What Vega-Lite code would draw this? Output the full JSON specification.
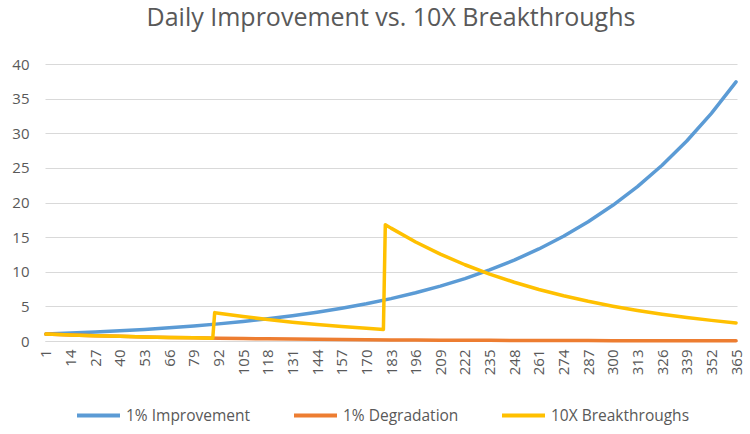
{
  "$schema": "https://vega.github.io/schema/vega-lite/v6.json",
  "autosize": "none",
  "width": 692,
  "height": 277,
  "padding": {"left": 45, "top": 64, "right": 13, "bottom": 93},
  "background": "white",
  "title": {"text": "Daily Improvement vs. 10X Breakthroughs", "font": "Open Sans", "fontSize": 25, "fontWeight": "normal", "color": "#595959", "anchor": "middle", "offset": 26},
  "config": {"view": {"stroke": null}, "font": "Open Sans"},
  "data": {"values": [
    {"day": 1, "series": "1% Improvement", "value": 1.0},
    {"day": 14, "series": "1% Improvement", "value": 1.138},
    {"day": 27, "series": "1% Improvement", "value": 1.295},
    {"day": 40, "series": "1% Improvement", "value": 1.474},
    {"day": 53, "series": "1% Improvement", "value": 1.678},
    {"day": 66, "series": "1% Improvement", "value": 1.909},
    {"day": 79, "series": "1% Improvement", "value": 2.173},
    {"day": 92, "series": "1% Improvement", "value": 2.473},
    {"day": 105, "series": "1% Improvement", "value": 2.815},
    {"day": 118, "series": "1% Improvement", "value": 3.203},
    {"day": 131, "series": "1% Improvement", "value": 3.646},
    {"day": 144, "series": "1% Improvement", "value": 4.149},
    {"day": 157, "series": "1% Improvement", "value": 4.722},
    {"day": 170, "series": "1% Improvement", "value": 5.374},
    {"day": 183, "series": "1% Improvement", "value": 6.117},
    {"day": 196, "series": "1% Improvement", "value": 6.961},
    {"day": 209, "series": "1% Improvement", "value": 7.922},
    {"day": 222, "series": "1% Improvement", "value": 9.016},
    {"day": 235, "series": "1% Improvement", "value": 10.262},
    {"day": 248, "series": "1% Improvement", "value": 11.678},
    {"day": 261, "series": "1% Improvement", "value": 13.29},
    {"day": 274, "series": "1% Improvement", "value": 15.126},
    {"day": 287, "series": "1% Improvement", "value": 17.215},
    {"day": 300, "series": "1% Improvement", "value": 19.593},
    {"day": 313, "series": "1% Improvement", "value": 22.297},
    {"day": 326, "series": "1% Improvement", "value": 25.376},
    {"day": 339, "series": "1% Improvement", "value": 28.88},
    {"day": 352, "series": "1% Improvement", "value": 32.87},
    {"day": 365, "series": "1% Improvement", "value": 37.41},
    {"day": 1, "series": "1% Degradation", "value": 1.0},
    {"day": 14, "series": "1% Degradation", "value": 0.877},
    {"day": 27, "series": "1% Degradation", "value": 0.77},
    {"day": 40, "series": "1% Degradation", "value": 0.676},
    {"day": 53, "series": "1% Degradation", "value": 0.593},
    {"day": 66, "series": "1% Degradation", "value": 0.52},
    {"day": 79, "series": "1% Degradation", "value": 0.457},
    {"day": 92, "series": "1% Degradation", "value": 0.401},
    {"day": 105, "series": "1% Degradation", "value": 0.352},
    {"day": 118, "series": "1% Degradation", "value": 0.309},
    {"day": 131, "series": "1% Degradation", "value": 0.271},
    {"day": 144, "series": "1% Degradation", "value": 0.238},
    {"day": 157, "series": "1% Degradation", "value": 0.209},
    {"day": 170, "series": "1% Degradation", "value": 0.183},
    {"day": 183, "series": "1% Degradation", "value": 0.161},
    {"day": 196, "series": "1% Degradation", "value": 0.141},
    {"day": 209, "series": "1% Degradation", "value": 0.124},
    {"day": 222, "series": "1% Degradation", "value": 0.108},
    {"day": 235, "series": "1% Degradation", "value": 0.095},
    {"day": 248, "series": "1% Degradation", "value": 0.084},
    {"day": 261, "series": "1% Degradation", "value": 0.073},
    {"day": 274, "series": "1% Degradation", "value": 0.064},
    {"day": 287, "series": "1% Degradation", "value": 0.056},
    {"day": 300, "series": "1% Degradation", "value": 0.05},
    {"day": 313, "series": "1% Degradation", "value": 0.043},
    {"day": 326, "series": "1% Degradation", "value": 0.038},
    {"day": 339, "series": "1% Degradation", "value": 0.033},
    {"day": 352, "series": "1% Degradation", "value": 0.029},
    {"day": 365, "series": "1% Degradation", "value": 0.026},
    {"day": 1, "series": "10X Breakthroughs", "value": 1.0},
    {"day": 14, "series": "10X Breakthroughs", "value": 0.877},
    {"day": 27, "series": "10X Breakthroughs", "value": 0.77},
    {"day": 40, "series": "10X Breakthroughs", "value": 0.676},
    {"day": 53, "series": "10X Breakthroughs", "value": 0.593},
    {"day": 66, "series": "10X Breakthroughs", "value": 0.52},
    {"day": 79, "series": "10X Breakthroughs", "value": 0.457},
    {"day": 89, "series": "10X Breakthroughs", "value": 0.413},
    {"day": 90, "series": "10X Breakthroughs", "value": 4.1},
    {"day": 92, "series": "10X Breakthroughs", "value": 4.02},
    {"day": 105, "series": "10X Breakthroughs", "value": 3.53},
    {"day": 118, "series": "10X Breakthroughs", "value": 3.1},
    {"day": 131, "series": "10X Breakthroughs", "value": 2.72},
    {"day": 144, "series": "10X Breakthroughs", "value": 2.39},
    {"day": 157, "series": "10X Breakthroughs", "value": 2.09},
    {"day": 170, "series": "10X Breakthroughs", "value": 1.83},
    {"day": 179, "series": "10X Breakthroughs", "value": 1.67},
    {"day": 180, "series": "10X Breakthroughs", "value": 16.8},
    {"day": 183, "series": "10X Breakthroughs", "value": 16.3},
    {"day": 196, "series": "10X Breakthroughs", "value": 14.3},
    {"day": 209, "series": "10X Breakthroughs", "value": 12.55},
    {"day": 222, "series": "10X Breakthroughs", "value": 11.01},
    {"day": 235, "series": "10X Breakthroughs", "value": 9.66},
    {"day": 248, "series": "10X Breakthroughs", "value": 8.48},
    {"day": 261, "series": "10X Breakthroughs", "value": 7.44},
    {"day": 274, "series": "10X Breakthroughs", "value": 6.53},
    {"day": 287, "series": "10X Breakthroughs", "value": 5.73},
    {"day": 300, "series": "10X Breakthroughs", "value": 5.03},
    {"day": 313, "series": "10X Breakthroughs", "value": 4.41},
    {"day": 326, "series": "10X Breakthroughs", "value": 3.87},
    {"day": 339, "series": "10X Breakthroughs", "value": 3.4},
    {"day": 352, "series": "10X Breakthroughs", "value": 2.98},
    {"day": 365, "series": "10X Breakthroughs", "value": 2.61}
  ]},
  "mark": {"type": "line", "strokeWidth": 3.5, "strokeCap": "round", "strokeJoin": "round"},
  "encoding": {
    "x": {
      "field": "day", "type": "quantitative",
      "scale": {"domain": [0.5, 365.5], "nice": false, "zero": false},
      "axis": {
        "title": null,
        "values": [1,14,27,40,53,66,79,92,105,118,131,144,157,170,183,196,209,222,235,248,261,274,287,300,313,326,339,352,365],
        "labelAngle": 270, "labelFontSize": 15, "labelColor": "#595959", "labelPadding": 8,
        "labelOverlap": false, "labelFlush": false, "labelBound": false,
        "ticks": false, "grid": false, "domain": true, "domainColor": "#d9d9d9", "domainWidth": 1
      }
    },
    "y": {
      "field": "value", "type": "quantitative",
      "scale": {"domain": [0, 40], "nice": false},
      "axis": {
        "title": null, "values": [0,5,10,15,20,25,30,35,40],
        "labelFontSize": 15, "labelColor": "#595959", "labelPadding": 16,
        "ticks": false, "domain": false, "grid": true, "gridColor": "#d9d9d9", "gridWidth": 1
      }
    },
    "color": {
      "field": "series", "type": "nominal",
      "scale": {"domain": ["1% Improvement", "1% Degradation", "10X Breakthroughs"], "range": ["#5b9bd5", "#ed7d31", "#ffc000"]},
      "legend": {
        "title": null, "orient": "none", "legendX": 30, "legendY": 328,
        "direction": "horizontal", "columns": 3, "columnPadding": 35,
        "symbolType": "stroke", "symbolSize": 1849, "symbolStrokeWidth": 4,
        "labelFontSize": 15.5, "labelColor": "#595959", "labelOffset": 4
      }
    }
  }
}
